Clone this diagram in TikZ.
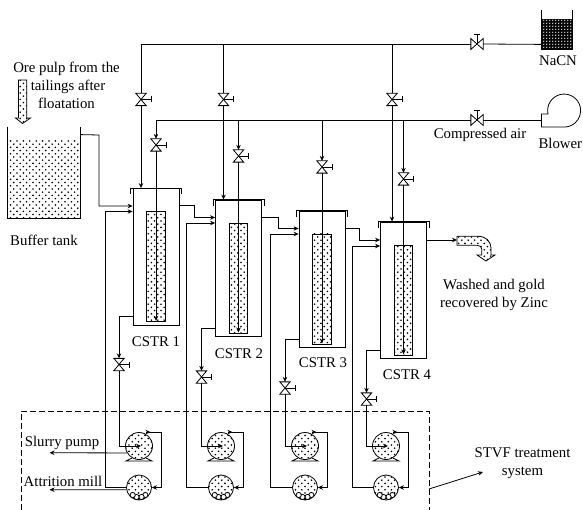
\documentclass[tikz,border=0pt]{standalone}
\usepackage{fontspec}
\setmainfont{Liberation Serif}
\usepackage{xcolor}
\usepackage{tikz}
\usetikzlibrary{arrows.meta,positioning,patterns,calc}

\pgfdeclarepatternformonly{slurry_dots}{\pgfqpoint{-1pt}{-1pt}}{\pgfqpoint{7pt}{7pt}}{\pgfqpoint{6.4pt}{6.4pt}}{
    \pgfpathcircle{\pgfqpoint{1pt}{1pt}}{0.9pt}
    \pgfpathcircle{\pgfqpoint{4.2pt}{4.2pt}}{0.9pt}
    \pgfusepath{fill}
}
\pgfdeclarepatternformonly{cyanide_dots}{\pgfqpoint{-1pt}{-1pt}}{\pgfqpoint{3pt}{3pt}}{\pgfqpoint{3pt}{3pt}}{
    \pgfpathcircle{\pgfqpoint{0.8pt}{0.8pt}}{0.65pt}
    \pgfusepath{fill}
}

\newcommand{\valvedown}[3]{
    \node[valve_box] (#1) at (#2,#3) {};
    \draw[fill=white] (#1.north west) -- (#1.north east) -- (#1.south west) -- (#1.south east) -- cycle;
    \draw (#1.center) -- ++(10,0) ++(0,-3) -- ++(0,6);
}
\newcommand{\valveside}[3]{
    \node[valve_box, minimum width=11.5pt, minimum height=10pt] (#1) at (#2,#3) {};
    \draw[fill=white] (#1.north west) -- (#1.south west) -- (#1.north east) -- (#1.south east) -- cycle;
    \draw (#1.center) -- ++(0,-10) ++(-3,0) -- ++(6,0);
}

\begin{document}
\begin{tikzpicture}[
    x=1pt, y=-1pt,
    line width=0.8pt,
    >={Stealth[length=5pt,width=4.5pt]},
    label_text/.style={font=\fontsize{14.8}{18}\selectfont, align=center, inner sep=0pt},
    vessel/.style={draw, minimum width=46pt, minimum height=136.5pt, inner sep=0pt},
    tube_bed/.style={draw, pattern=slurry_dots, minimum width=18.5pt, minimum height=110pt, inner sep=0pt},
    pump_body/.style={draw, circle, pattern=slurry_dots, minimum size=27pt, inner sep=0pt},
    mill_body/.style={draw, circle, pattern=slurry_dots, minimum size=25pt, inner sep=0pt},
    valve_box/.style={minimum width=9.5pt, minimum height=11.5pt, inner sep=0pt}
]
    \useasboundingbox (0,0) rectangle (583,510);

    % Buffer tank and feed arrow
    \node[minimum width=72.5pt, minimum height=91.5pt, inner sep=0pt] (buffer) at (43.75,172.75) {};
    \fill[pattern=slurry_dots] (7.5,140) rectangle (80,218.5);
    \draw (buffer.north west) -- (buffer.south west) -- (buffer.south east) -- (buffer.north east);
    \draw[pattern=slurry_dots] (18.5,80) -- (26.7,80) -- (26.7,118) -- (30.5,118) -- (22.6,123.5) -- (15.5,118) -- (18.5,118) -- cycle;

    % NaCN tank and blower
    \node[minimum width=30.5pt, minimum height=39pt, inner sep=0pt] (nacn) at (556.75,29.5) {};
    \fill[black, postaction={pattern=cyanide_dots, pattern color=white}] (541.5,19) rectangle (572,49);
    \draw (nacn.north west) -- (nacn.south west) -- (nacn.south east) -- (nacn.north east);
    \node[minimum width=39pt, minimum height=33pt, inner sep=0pt] (blower) at (561,110.5) {};
    \draw (541.5,114) -- (548,114) arc[start angle=192, end angle=-90, radius=16.5pt] -- (541.5,127) -- cycle;

    % Reactors
    \foreach \n/\x/\ytop in {1/156/188.5, 2/238.5/200, 3/322/211, 4/403.5/222} {
        \node[vessel] (cstr\n) at (\x,\ytop+68.25) {};
        \node[tube_bed] (bed\n) at (\x,\ytop+78) {};
        \draw ($(cstr\n.north west)+(-2pt,-6pt)$) -- ($(cstr\n.north west)+(-2pt,0pt)$) -- ($(cstr\n.north east)+(2pt,0pt)$) -- ($(cstr\n.north east)+(2pt,-6pt)$);
    }

    % Valves
    \valveside{vnacn}{477}{44}
    \valveside{vair}{477}{120}
    \valvedown{vn1}{141}{99.5}
    \valvedown{vn2}{223.5}{99.5}
    \valvedown{vn4}{392}{99.5}
    \valvedown{va1}{156}{145}
    \valvedown{va2}{238.5}{156}
    \valvedown{va3}{322}{167}
    \valvedown{va4}{403.5}{179}
    \valvedown{vb1}{119}{364.5}
    \valvedown{vb2}{201.5}{377}
    \valvedown{vb3}{285}{388}
    \valvedown{vb4}{366.5}{399}

    % NaCN line
    \coordinate (nacn_in) at ([yshift=5pt]nacn.south west);
    \coordinate (air_in) at (541.5,120);
    \draw (nacn_in) -- (vnacn.east);
    \draw (vnacn.west) -- (vn1 |- vnacn.west) -- (vn1.north);
    \draw (vn2 |- vnacn.west) -- (vn2.north);
    \draw (vn4 |- vnacn.west) -- (vn4.north);
    \draw[->] (vn1.south) -- (vn1 |- cstr1.north);
    \draw[->] (vn2.south) -- (vn2 |- cstr2.north);
    \draw[->] (vn4.south) -- (vn4 |- cstr4.north);

    % Compressed air line
    \draw (air_in) -- (vair.east);
    \draw[->] (vair.west) -- (va1 |- vair.west) -- (va1.north);
    \draw[->] (va2 |- vair.west) -- (va2.north);
    \draw[->] (va3 |- vair.west) -- (va3.north);
    \draw[->] (va4 |- vair.west) -- (va4.north);
    \foreach \n in {1,2,3,4} {
        \draw[->] (va\n.south) -- ([yshift=1pt]bed\n.south);
    }

    % Slurry from tank to tank
    \draw[->] ($(buffer.north east)+(0,8)$) -- (99,135) |- (cstr1.west |- 0,206);
    \draw[->] (cstr1.east |- 0,205.5) -- (194.5,205.5) |- (cstr2.west |- 0,217.5);
    \draw[->] (cstr2.east |- 0,217) -- (278,217) |- (cstr3.west |- 0,228.5);
    \draw[->] (cstr3.east |- 0,228) -- (359.5,228) |- (cstr4.west |- 0,240);
    \draw[->] (cstr4.east |- 0,240) -- (457,240);
    \draw[pattern=slurry_dots] (457,236.3) -- (478,236.3) .. controls (486,236.3) and (491,241) .. (491,249) -- (491,255) -- (495,255) -- (486,261) -- (477,255) -- (481.7,255) -- (481.7,249) .. controls (481.7,247) and (480,245.3) .. (477,245.3) -- (457,245.3) -- cycle;

    % Pumps and mills
    \foreach \n/\x/\vx/\backx/\yback/\yout in {1/139/119/105/211.5/316, 2/221/201.5/186.5/223/328, 3/305/285/270/234/339, 4/386/366.5/352/246/350} {
        \node[pump_body] (pump\n) at (\x,446) {};
        \node[mill_body] (mill\n) at (\x,487.5) {};
        \foreach \a in {50,75,105,130} {
            \draw[fill=white] ($(mill\n.center)+(\a:9.8)$) circle[radius=2.6pt];
        }
        \draw (pump\n.240) -- (\x-13,461) -- (\x+13,461) -- (pump\n.300);
        \draw[->] (cstr\n.west |- 0,\yout) -| (vb\n.north);
        \draw[->] (vb\n.south) |- ($(pump\n.center)+(2pt,0)$);
        \draw[->] ($(pump\n.north)+(7pt,0)$) -- ++(4.5,0);
        \draw[->] ($(pump\n.north)+(7pt,0)$) -- ++(15.5,0) |- (mill\n.east);
        \draw[->] (mill\n.west) -| (\backx,\yback) -- (cstr\n.west |- 0,\yback);
    }

    % Products of the treatment system
    \coordinate (slurry_end) at (49.5,452.75);
    \coordinate (mill_end) at (49.5,489.7);
    \draw[->] (pump1.210) -- (slurry_end);
    \draw[->] (mill1.190) -- (mill_end);

    % STVF box
    \coordinate (box_sw) at (21,510);
    \coordinate (box_se) at (429,510);
    \coordinate (box_edge) at (429,489);
    \coordinate (stvf_tip) at (483,472);
    \draw[dashed, dash pattern=on 6pt off 3pt] (box_sw) |- (box_se |- 0,411) -- (box_se);
    \draw[->] (box_edge) -- (stvf_tip);

    % Labels
    \node[label_text] (ore_label) at (66.5,85) {Ore pulp from the\\\hspace*{3pt}tailings after\\floatation};
    \node[label_text] (buffer_label) at (44,240) {Buffer tank};
    \node[label_text] (nacn_label) at (558,61) {NaCN};
    \node[label_text] (air_label) at (480,135) {Compressed air};
    \node[label_text, anchor=east] (blower_label) at (582.5,143) {Blower};
    \node[label_text] (zinc_label) at (494,295) {Washed and gold\\recovered by Zinc};
    \node[label_text] (stvf_label) at (522.5,463) {STVF treatment\\system};
    \node[label_text] (slurry_label) at (62,443) {Slurry pump};
    \node[label_text] (mill_label) at (63,481) {Attrition mill};
    \node[label_text] (cstr1_label) at (156,342) {CSTR 1};
    \node[label_text] (cstr2_label) at (239,354) {CSTR 2};
    \node[label_text] (cstr3_label) at (323,363) {CSTR 3};
    \node[label_text] (cstr4_label) at (407,375) {CSTR 4};
\end{tikzpicture}
\end{document}
